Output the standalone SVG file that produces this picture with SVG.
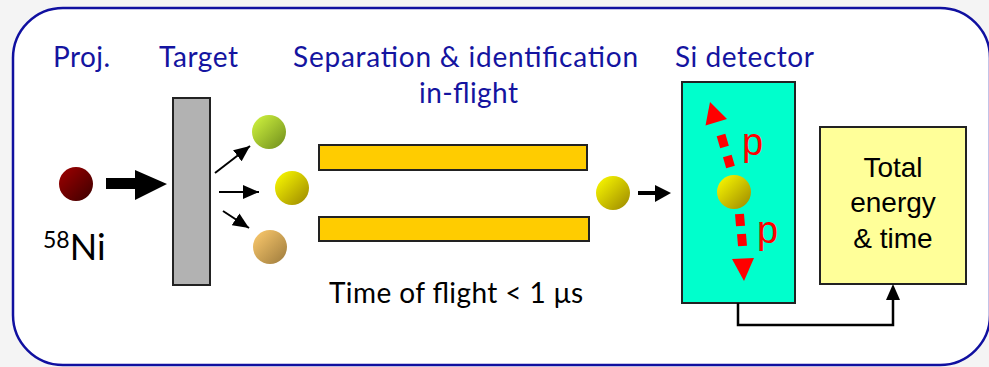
<svg xmlns="http://www.w3.org/2000/svg" width="989" height="367" viewBox="0 0 989 367">
  <style>
    .lbl { font-family: Lato, "Open Sans", sans-serif; font-size: 28px; fill: #1414a0; }
    .blk { font-family: Lato, "Open Sans", sans-serif; fill: #000; }
    .arial { font-family: "Liberation Sans", Arial, sans-serif; }
    .box { stroke: #222; stroke-width: 2; }
    .wire { fill: none; stroke: #000; stroke-width: 2.5; }
    .thin { fill: none; stroke: #000; stroke-width: 2; }
  </style>
  <defs>
    <linearGradient id="gRed" x1="0" y1="0" x2="1" y2="1">
      <stop offset="0" stop-color="#a00000"/>
      <stop offset="1" stop-color="#3c0000"/>
    </linearGradient>
    <linearGradient id="gGreen" x1="0" y1="0" x2="1" y2="1">
      <stop offset="0" stop-color="#d4f840"/>
      <stop offset="1" stop-color="#6e8c1c"/>
    </linearGradient>
    <linearGradient id="gYellow" x1="0" y1="0" x2="1" y2="1">
      <stop offset="0" stop-color="#ffff00"/>
      <stop offset="1" stop-color="#9a8600"/>
    </linearGradient>
    <linearGradient id="gTan" x1="0" y1="0" x2="1" y2="1">
      <stop offset="0" stop-color="#ffcc6e"/>
      <stop offset="1" stop-color="#9c7a3c"/>
    </linearGradient>
    <marker id="head" markerUnits="userSpaceOnUse" markerWidth="16" markerHeight="14" refX="16" refY="7" orient="auto">
      <path d="M0,0 L16,7 L0,14 Z" fill="#000"/>
    </marker>
  </defs>

  <!-- page and frame -->
  <rect x="0" y="0" width="989" height="367" fill="#f4f4f4"/>
  <rect x="13" y="8" width="977" height="357" rx="50" ry="50" fill="#fff" stroke="#1010a0" stroke-width="2.5"/>

  <!-- headings -->
  <text class="lbl" x="53" y="67" textLength="57" lengthAdjust="spacing">Proj.</text>
  <text class="lbl" x="159" y="67" textLength="79" lengthAdjust="spacing">Target</text>
  <text class="lbl" x="293" y="67" textLength="345" lengthAdjust="spacing">Separation &amp; identification</text>
  <text class="lbl" x="419" y="103" textLength="99" lengthAdjust="spacing">in-flight</text>
  <text class="lbl" x="675" y="67" textLength="139" lengthAdjust="spacing">Si detector</text>

  <!-- projectile -->
  <g id="projectile">
    <circle cx="76" cy="184" r="17" fill="url(#gRed)"/>
    <text class="blk" x="43" y="260"><tspan font-size="23" dy="-12">58</tspan><tspan font-size="36" dy="12">Ni</tspan></text>
  </g>

  <!-- target foil -->
  <g id="target">
    <rect class="box" x="173" y="98" width="37" height="187" fill="#b2b2b2"/>
  </g>

  <!-- reaction products -->
  <g id="products">
    <circle cx="269" cy="132" r="17" fill="url(#gGreen)"/>
    <circle cx="292" cy="188" r="17" fill="url(#gYellow)"/>
    <circle cx="270" cy="247" r="17" fill="url(#gTan)"/>
  </g>

  <!-- separator plates -->
  <g id="separator">
    <rect class="box" x="319" y="145" width="268" height="25" fill="#ffcc00"/>
    <rect class="box" x="319" y="217" width="270" height="24" fill="#ffcc00"/>
    <text class="blk" x="329" y="303" font-size="28" textLength="254" lengthAdjust="spacing">Time of flight &lt; 1 μs</text>
  </g>

  <!-- selected ion -->
  <g id="ion">
    <circle cx="613" cy="193" r="17" fill="url(#gYellow)"/>
  </g>

  <!-- silicon detector -->
  <g id="si-detector">
    <rect class="box" x="682" y="82" width="113" height="221" fill="#00ffcc"/>
    <circle cx="734" cy="192" r="17" fill="url(#gYellow)"/>
    <g fill="none" stroke="#ff0000" stroke-width="9">
      <line x1="730.5" y1="167" x2="727.3" y2="156"/>
      <line x1="724.5" y1="147" x2="721" y2="135"/>
      <line x1="739.5" y1="214" x2="740.5" y2="226"/>
      <line x1="741.5" y1="234" x2="742.5" y2="246"/>
    </g>
    <polygon points="710,102 727,119 705.5,125.5" fill="#ff0000"/>
    <polygon points="732,259 754,258 744,281" fill="#ff0000"/>
    <text class="arial" x="742" y="155" font-size="38" fill="#ff0000">p</text>
    <text class="arial" x="757" y="243" font-size="38" fill="#ff0000">p</text>
  </g>

  <!-- readout -->
  <g id="readout">
    <rect class="box" x="820" y="127" width="146" height="157" fill="#ffff99"/>
    <text class="arial" x="893" y="177" font-size="28" text-anchor="middle">Total</text>
    <text class="arial" x="893" y="212" font-size="28" text-anchor="middle">energy</text>
    <text class="arial" x="893" y="248" font-size="28" text-anchor="middle">&amp; time</text>
  </g>

  <!-- connectors -->
  <g id="connectors">
    <polygon points="106,178 135,178 135,170 167,184 135,200 135,189 106,189" fill="#000"/>
    <line class="thin" x1="215" y1="173" x2="250" y2="146" marker-end="url(#head)"/>
    <line class="thin" x1="219" y1="192" x2="259" y2="192" marker-end="url(#head)"/>
    <line class="thin" x1="223" y1="211" x2="249" y2="228" marker-end="url(#head)"/>
    <line x1="638" y1="193" x2="658" y2="193" stroke="#000" stroke-width="4"/>
    <polygon points="655,185 671,193 655,202" fill="#000"/>
    <polyline class="wire" points="738,303 738,325 893,325 893,298"/>
    <polygon points="886,300 900,300 893,284" fill="#000"/>
  </g>
</svg>
